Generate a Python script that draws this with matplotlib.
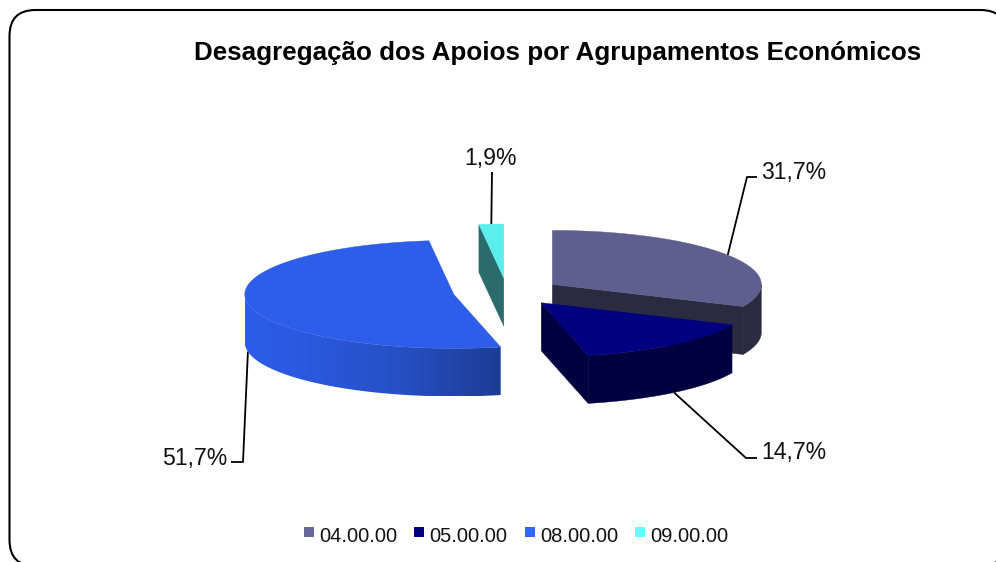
import numpy as np
import matplotlib
matplotlib.use("Agg")
import matplotlib.pyplot as plt
from matplotlib.colors import LinearSegmentedColormap
from matplotlib.patches import FancyBboxPatch, Polygon, Rectangle

plt.rcParams["font.family"] = ["Liberation Sans", "DejaVu Sans"]

# DATA

categories = ["04.00.00", "05.00.00", "08.00.00", "09.00.00"]
percent = [31.7, 14.7, 51.7, 1.9]
legend_colors = ["#666699", "#000080", "#3366FF", "#66FFFF"]
top_colors = ["#5F5F8F", "#000080", "#2D5DE9", "#5AEEEE"]
side_colors = ["#2A2A40", "#000040", "#2D5DE9", "#2B6B6B"]
title = "Desagregação dos Apoios por Agrupamentos Económicos"

# GEOMETRY OF THE 3D PIE (pixels)

cx, cy = 507, 292
rx, ry = 209, 54
depth = 48
explode = 54

# elbow and text position of each label
elbows = [(747, 177), (746, 458), (243, 462), (492, 172)]
elbow_ends = [(757, 177), (757, 458), (231, 462), (492, 172)]
label_pos = [(761, 172, "left"), (761, 453, "left"), (227, 458, "right"), (490, 159, "center")]

fig = plt.figure(figsize=(9.96, 5.62), dpi=100)
ax = fig.add_axes([0, 0, 1, 1])
ax.set_xlim(0, 996)
ax.set_ylim(562, 0)
ax.axis("off")

# chart border, runs off the right and bottom of the picture
ax.add_patch(FancyBboxPatch((9.5, 10), 997, 556, boxstyle="round,pad=0,rounding_size=26",
                            fc="white", ec="black", lw=1.5, zorder=0))

ax.text(558, 53, title, fontsize=18.7, fontweight="bold", ha="center", va="center", color="black")


def rim(x0, y0, a0, a1, dy=0):
    # points of the ellipse from a0 to a1, degrees clockwise from 12 o'clock
    t = np.radians(np.linspace(a0, a1, 150))
    return np.column_stack([x0 + rx * np.sin(t), y0 - ry * np.cos(t) + dy])


# angles and centres come from the values
ends = np.cumsum(percent) * 3.6
starts = ends - np.array(percent) * 3.6
mids = (starts + ends) / 2
centers = [(cx + explode * np.sin(np.radians(m)), cy - explode * ry / rx * np.cos(np.radians(m))) for m in mids]

blue_shade = LinearSegmentedColormap.from_list("blue_side", [(0, "#2D5DE9"), (0.25, "#2B58DE"), (0.6, "#2650C4"), (1, "#1C3C94")])

for i in np.argsort([c[1] for c in centers]):
    x0, y0 = centers[i]
    a0, a1 = starts[i], ends[i]
    z = 2 + i * 0.1 if categories[i] != "05.00.00" else 3

    # cut faces turned towards the viewer
    for a, normal in [(a0, a0 - 90), (a1, a1 + 90)]:
        if np.cos(np.radians(normal)) < -0.01:
            px = x0 + rx * np.sin(np.radians(a))
            py = y0 - ry * np.cos(np.radians(a))
            face = [(x0, y0), (px, py), (px, py + depth), (x0, y0 + depth)]
            ax.add_patch(Polygon(face, fc=side_colors[i], ec=side_colors[i], lw=0.3, zorder=z))

    # outer wall, only the front half shows
    w0, w1 = max(a0, 90), min(a1, 270)
    if w1 > w0:
        wall = np.vstack([rim(x0, y0, w0, w1), rim(x0, y0, w1, w0, depth)])
        if categories[i] == "08.00.00":
            p = Polygon(wall, fc="none", ec="none", zorder=z)
            ax.add_patch(p)
            im = ax.imshow(np.linspace(0, 1, 256).reshape(1, -1), cmap=blue_shade, aspect="auto", zorder=z,
                           extent=(wall[:, 0].min(), wall[:, 0].max(), wall[:, 1].max(), wall[:, 1].min()))
            im.set_clip_path(p)
        else:
            ax.add_patch(Polygon(wall, fc=side_colors[i], ec=side_colors[i], lw=0.3, zorder=z))

    # top face
    top = np.vstack([[(x0, y0)], rim(x0, y0, a0, a1)])
    ax.add_patch(Polygon(top, fc=top_colors[i], ec=top_colors[i], lw=0.3, zorder=z + 0.05))

ax.set_xlim(0, 996)
ax.set_ylim(562, 0)

# leader lines and labels
for i, v in enumerate(percent):
    x0, y0 = centers[i]
    t = np.radians(mids[i])
    ax_x = x0 + rx * np.sin(t)
    ax_y = y0 - ry * np.cos(t) + (depth if np.cos(t) < 0 else 0)
    ax.plot([ax_x, elbows[i][0], elbow_ends[i][0]], [ax_y, elbows[i][1], elbow_ends[i][1]],
            color="black", lw=1.3, zorder=1.5, solid_capstyle="butt")
    lx, ly, ha = label_pos[i]
    ax.text(lx, ly, f"{v:.1f}".replace(".", ",") + "%", fontsize=16.6, ha=ha, va="center", color="#111111", zorder=6)

# legend
for i, name in enumerate(categories):
    lx = 304 + i * 110.4
    ax.add_patch(Rectangle((lx, 527), 10, 10, fc=legend_colors[i], ec="none", zorder=5))
    ax.text(lx + 15, 536, name, fontsize=14.5, ha="left", va="center", color="#111111", zorder=6)

fig.savefig("out.png", dpi=100)
